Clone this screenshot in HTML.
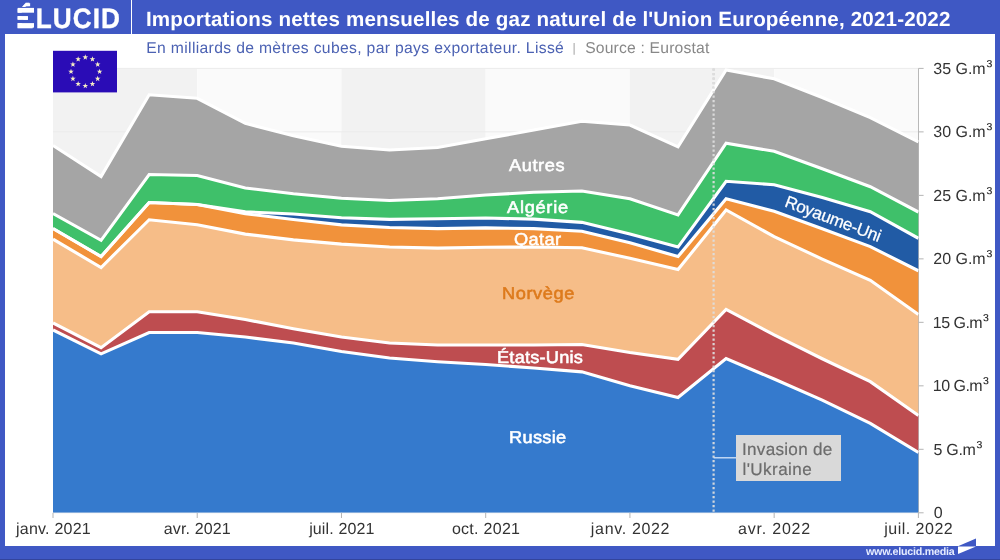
<!DOCTYPE html>
<html lang="fr"><head><meta charset="utf-8"><title>Importations nettes mensuelles de gaz naturel de l'Union Européenne, 2021-2022</title>
<style>
html,body{margin:0;padding:0;}
body{width:1000px;height:560px;position:relative;overflow:hidden;background:#3f58c4;font-family:"Liberation Sans",sans-serif;text-rendering:geometricPrecision;}
#paper{position:absolute;left:5px;top:34px;width:990px;height:512px;background:#fff;}
#bottomline{position:absolute;left:0;top:559px;width:1000px;height:1px;background:#33449c;}
.t{position:absolute;white-space:nowrap;line-height:1;}
.sup{font-size:17.4px;line-height:0;position:relative;top:-2.0px;letter-spacing:0;margin-left:0.9px;}
#t0::first-letter{margin-right:1.5px;}
#sep{position:absolute;left:131px;top:0;width:1.4px;height:34px;background:#fff;}
#ann{position:absolute;left:736px;top:435.1px;width:105.3px;height:45.6px;background:#d9d9d9;}
.eb{position:absolute;background:#3f58c4;}
</style></head><body>
<div id="paper"></div>

<svg width="1000" height="560" viewBox="0 0 1000 560" style="position:absolute;left:0;top:0">
<defs><clipPath id="cp"><rect x="53.0" y="66.4" width="865.6999999999999" height="446.4"/></clipPath><clipPath id="cpa"><polygon points="53.00,145.50 101.08,176.50 149.16,94.80 197.23,98.30 245.31,123.30 293.39,135.80 341.47,146.30 389.54,150.05 437.62,147.55 485.70,138.80 533.78,130.05 581.86,121.30 629.93,125.05 678.01,146.80 726.09,70.05 774.17,78.80 822.24,97.55 870.32,117.55 918.40,141.90 918.40,512.80 870.32,512.80 822.24,512.80 774.17,512.80 726.09,512.80 678.01,512.80 629.93,512.80 581.86,512.80 533.78,512.80 485.70,512.80 437.62,512.80 389.54,512.80 341.47,512.80 293.39,512.80 245.31,512.80 197.23,512.80 149.16,512.80 101.08,512.80 53.00,512.80"/></clipPath></defs>
<rect x="53.00" y="68.4" width="144.23" height="444.4" fill="#f2f2f2"/>
<rect x="53.00" y="131.89" width="144.23" height="63.49" fill="#f2f2f2"/>
<rect x="197.23" y="68.4" width="144.23" height="444.4" fill="#fafafa"/>
<rect x="197.23" y="131.89" width="144.23" height="63.49" fill="#fafafa"/>
<rect x="341.47" y="68.4" width="144.23" height="444.4" fill="#f2f2f2"/>
<rect x="341.47" y="131.89" width="144.23" height="63.49" fill="#f2f2f2"/>
<rect x="485.70" y="68.4" width="144.23" height="444.4" fill="#fafafa"/>
<rect x="485.70" y="131.89" width="144.23" height="63.49" fill="#fafafa"/>
<rect x="629.93" y="68.4" width="144.23" height="444.4" fill="#f2f2f2"/>
<rect x="629.93" y="131.89" width="144.23" height="63.49" fill="#f2f2f2"/>
<rect x="774.17" y="68.4" width="144.23" height="444.4" fill="#fafafa"/>
<rect x="774.17" y="131.89" width="144.23" height="63.49" fill="#fafafa"/>
<line x1="53.0" x2="918.4" y1="512.80" y2="512.80" stroke="#ebebeb" stroke-width="1"/>
<line x1="53.0" x2="918.4" y1="449.31" y2="449.31" stroke="#ebebeb" stroke-width="1"/>
<line x1="53.0" x2="918.4" y1="385.83" y2="385.83" stroke="#ebebeb" stroke-width="1"/>
<line x1="53.0" x2="918.4" y1="322.34" y2="322.34" stroke="#ebebeb" stroke-width="1"/>
<line x1="53.0" x2="918.4" y1="258.86" y2="258.86" stroke="#ebebeb" stroke-width="1"/>
<line x1="53.0" x2="918.4" y1="195.37" y2="195.37" stroke="#ebebeb" stroke-width="1"/>
<line x1="53.0" x2="918.4" y1="131.89" y2="131.89" stroke="#ebebeb" stroke-width="1"/>
<line x1="53.0" x2="918.4" y1="68.40" y2="68.40" stroke="#ebebeb" stroke-width="1"/>
<line x1="713.6" x2="713.6" y1="68.4" y2="512.8" stroke="#d2d2d2" stroke-width="2.2" stroke-dasharray="2.4 2.1"/>
<line x1="918.5" x2="918.5" y1="68.4" y2="512.8" stroke="#b8b8b8" stroke-width="1"/>
<g clip-path="url(#cp)">
<polygon points="53.00,145.50 101.08,176.50 149.16,94.80 197.23,98.30 245.31,123.30 293.39,135.80 341.47,146.30 389.54,150.05 437.62,147.55 485.70,138.80 533.78,130.05 581.86,121.30 629.93,125.05 678.01,146.80 726.09,70.05 774.17,78.80 822.24,97.55 870.32,117.55 918.40,141.90 918.40,212.05 870.32,186.70 822.24,168.75 774.17,151.30 726.09,143.25 678.01,214.90 629.93,198.80 581.86,191.00 533.78,192.25 485.70,195.05 437.62,198.75 389.54,200.50 341.47,198.30 293.39,193.75 245.31,187.95 197.23,175.50 149.16,174.50 101.08,240.30 53.00,213.50" fill="#a5a5a5"/>
<polygon points="53.00,213.50 101.08,240.30 149.16,174.50 197.23,175.50 245.31,187.95 293.39,193.75 341.47,198.30 389.54,200.50 437.62,198.75 485.70,195.05 533.78,192.25 581.86,191.00 629.93,198.80 678.01,214.90 726.09,143.25 774.17,151.30 822.24,168.75 870.32,186.70 918.40,212.05 918.40,238.30 870.32,211.70 822.24,197.50 774.17,184.80 726.09,181.25 678.01,247.05 629.93,234.10 581.86,222.35 533.78,219.10 485.70,218.05 437.62,218.80 389.54,219.35 341.47,217.70 293.39,214.00 245.31,211.80 197.23,204.50 149.16,202.50 101.08,256.50 53.00,228.50" fill="#3fc06a"/>
<polygon points="53.00,228.50 101.08,256.50 149.16,202.50 197.23,204.50 245.31,211.80 293.39,214.00 341.47,217.70 389.54,219.35 437.62,218.80 485.70,218.05 533.78,219.10 581.86,222.35 629.93,234.10 678.01,247.05 726.09,181.25 774.17,184.80 822.24,197.50 870.32,211.70 918.40,238.30 918.40,270.80 870.32,246.60 822.24,228.75 774.17,211.25 726.09,198.70 678.01,256.60 629.93,242.85 581.86,231.30 533.78,228.60 485.70,227.85 437.62,228.60 389.54,227.55 341.47,224.85 293.39,219.55 245.31,213.70 197.23,204.50 149.16,202.50 101.08,256.50 53.00,228.50" fill="#215ba5"/>
<polygon points="53.00,228.50 101.08,256.50 149.16,202.50 197.23,204.50 245.31,213.70 293.39,219.55 341.47,224.85 389.54,227.55 437.62,228.60 485.70,227.85 533.78,228.60 581.86,231.30 629.93,242.85 678.01,256.60 726.09,198.70 774.17,211.25 822.24,228.75 870.32,246.60 918.40,270.80 918.40,314.40 870.32,280.35 822.24,259.10 774.17,236.60 726.09,210.00 678.01,269.55 629.93,258.30 581.86,247.80 533.78,247.00 485.70,247.30 437.62,248.10 389.54,247.05 341.47,244.15 293.39,239.85 245.31,234.10 197.23,224.70 149.16,219.75 101.08,267.50 53.00,239.20" fill="#f1923b"/>
<polygon points="53.00,239.20 101.08,267.50 149.16,219.75 197.23,224.70 245.31,234.10 293.39,239.85 341.47,244.15 389.54,247.05 437.62,248.10 485.70,247.30 533.78,247.00 581.86,247.80 629.93,258.30 678.01,269.55 726.09,210.00 774.17,236.60 822.24,259.10 870.32,280.35 918.40,314.40 918.40,415.40 870.32,381.65 822.24,358.75 774.17,334.90 726.09,309.40 678.01,359.25 629.93,352.50 581.86,344.50 533.78,345.00 485.70,345.00 437.62,345.00 389.54,343.00 341.47,337.00 293.39,328.75 245.31,319.50 197.23,311.75 149.16,311.75 101.08,347.70 53.00,322.95" fill="#f6bd88"/>
<polygon points="53.00,322.95 101.08,347.70 149.16,311.75 197.23,311.75 245.31,319.50 293.39,328.75 341.47,337.00 389.54,343.00 437.62,345.00 485.70,345.00 533.78,345.00 581.86,344.50 629.93,352.50 678.01,359.25 726.09,309.40 774.17,334.90 822.24,358.75 870.32,381.65 918.40,415.40 918.40,452.50 870.32,423.40 822.24,400.10 774.17,379.05 726.09,358.50 678.01,397.50 629.93,385.80 581.86,371.85 533.78,368.00 485.70,364.55 437.62,361.75 389.54,358.00 341.47,351.50 293.39,343.00 245.31,337.00 197.23,332.50 149.16,332.50 101.08,353.80 53.00,329.95" fill="#be4d50"/>
<polygon points="53.00,329.95 101.08,353.80 149.16,332.50 197.23,332.50 245.31,337.00 293.39,343.00 341.47,351.50 389.54,358.00 437.62,361.75 485.70,364.55 533.78,368.00 581.86,371.85 629.93,385.80 678.01,397.50 726.09,358.50 774.17,379.05 822.24,400.10 870.32,423.40 918.40,452.50 918.40,512.80 870.32,512.80 822.24,512.80 774.17,512.80 726.09,512.80 678.01,512.80 629.93,512.80 581.86,512.80 533.78,512.80 485.70,512.80 437.62,512.80 389.54,512.80 341.47,512.80 293.39,512.80 245.31,512.80 197.23,512.80 149.16,512.80 101.08,512.80 53.00,512.80" fill="#357acd"/>
<polyline points="53.00,145.50 101.08,176.50 149.16,94.80 197.23,98.30 245.31,123.30 293.39,135.80 341.47,146.30 389.54,150.05 437.62,147.55 485.70,138.80 533.78,130.05 581.86,121.30 629.93,125.05 678.01,146.80 726.09,70.05 774.17,78.80 822.24,97.55 870.32,117.55 918.40,141.90" fill="none" stroke="#fff" stroke-width="3.1" stroke-linejoin="miter"/>
<polyline points="53.00,213.50 101.08,240.30 149.16,174.50 197.23,175.50 245.31,187.95 293.39,193.75 341.47,198.30 389.54,200.50 437.62,198.75 485.70,195.05 533.78,192.25 581.86,191.00 629.93,198.80 678.01,214.90 726.09,143.25 774.17,151.30 822.24,168.75 870.32,186.70 918.40,212.05" fill="none" stroke="#fff" stroke-width="3.1" stroke-linejoin="miter"/>
<polyline points="53.00,228.50 101.08,256.50 149.16,202.50 197.23,204.50 245.31,211.80 293.39,214.00 341.47,217.70 389.54,219.35 437.62,218.80 485.70,218.05 533.78,219.10 581.86,222.35 629.93,234.10 678.01,247.05 726.09,181.25 774.17,184.80 822.24,197.50 870.32,211.70 918.40,238.30" fill="none" stroke="#fff" stroke-width="3.1" stroke-linejoin="miter"/>
<polyline points="53.00,228.50 101.08,256.50 149.16,202.50 197.23,204.50 245.31,213.70 293.39,219.55 341.47,224.85 389.54,227.55 437.62,228.60 485.70,227.85 533.78,228.60 581.86,231.30 629.93,242.85 678.01,256.60 726.09,198.70 774.17,211.25 822.24,228.75 870.32,246.60 918.40,270.80" fill="none" stroke="#fff" stroke-width="3.1" stroke-linejoin="miter"/>
<polyline points="53.00,239.20 101.08,267.50 149.16,219.75 197.23,224.70 245.31,234.10 293.39,239.85 341.47,244.15 389.54,247.05 437.62,248.10 485.70,247.30 533.78,247.00 581.86,247.80 629.93,258.30 678.01,269.55 726.09,210.00 774.17,236.60 822.24,259.10 870.32,280.35 918.40,314.40" fill="none" stroke="#fff" stroke-width="3.1" stroke-linejoin="miter"/>
<polyline points="53.00,322.95 101.08,347.70 149.16,311.75 197.23,311.75 245.31,319.50 293.39,328.75 341.47,337.00 389.54,343.00 437.62,345.00 485.70,345.00 533.78,345.00 581.86,344.50 629.93,352.50 678.01,359.25 726.09,309.40 774.17,334.90 822.24,358.75 870.32,381.65 918.40,415.40" fill="none" stroke="#fff" stroke-width="3.1" stroke-linejoin="miter"/>
<polyline points="53.00,329.95 101.08,353.80 149.16,332.50 197.23,332.50 245.31,337.00 293.39,343.00 341.47,351.50 389.54,358.00 437.62,361.75 485.70,364.55 533.78,368.00 581.86,371.85 629.93,385.80 678.01,397.50 726.09,358.50 774.17,379.05 822.24,400.10 870.32,423.40 918.40,452.50" fill="none" stroke="#fff" stroke-width="3.1" stroke-linejoin="miter"/>
</g>
<line x1="713.6" x2="713.6" y1="68.4" y2="512.8" stroke="#dedede" stroke-opacity="0.93" stroke-width="2.2" stroke-dasharray="2.4 2.1"/>
<line x1="918.5" x2="923.6" y1="512.80" y2="512.80" stroke="#b4b4b4" stroke-width="1"/>
<line x1="918.5" x2="923.6" y1="449.31" y2="449.31" stroke="#b4b4b4" stroke-width="1"/>
<line x1="918.5" x2="923.6" y1="385.83" y2="385.83" stroke="#b4b4b4" stroke-width="1"/>
<line x1="918.5" x2="923.6" y1="322.34" y2="322.34" stroke="#b4b4b4" stroke-width="1"/>
<line x1="918.5" x2="923.6" y1="258.86" y2="258.86" stroke="#b4b4b4" stroke-width="1"/>
<line x1="918.5" x2="923.6" y1="195.37" y2="195.37" stroke="#b4b4b4" stroke-width="1"/>
<line x1="918.5" x2="923.6" y1="131.89" y2="131.89" stroke="#b4b4b4" stroke-width="1"/>
<line x1="918.5" x2="923.6" y1="68.40" y2="68.40" stroke="#b4b4b4" stroke-width="1"/>
<line x1="53.00" x2="53.00" y1="512.8" y2="518.0" stroke="#b4b4b4" stroke-width="1"/>
<line x1="197.23" x2="197.23" y1="512.8" y2="518.0" stroke="#b4b4b4" stroke-width="1"/>
<line x1="341.47" x2="341.47" y1="512.8" y2="518.0" stroke="#b4b4b4" stroke-width="1"/>
<line x1="485.70" x2="485.70" y1="512.8" y2="518.0" stroke="#b4b4b4" stroke-width="1"/>
<line x1="629.93" x2="629.93" y1="512.8" y2="518.0" stroke="#b4b4b4" stroke-width="1"/>
<line x1="774.17" x2="774.17" y1="512.8" y2="518.0" stroke="#b4b4b4" stroke-width="1"/>
<line x1="918.40" x2="918.40" y1="512.8" y2="518.0" stroke="#b4b4b4" stroke-width="1"/>
<line x1="713.6" x2="736" y1="457.8" y2="457.8" stroke="#d6e6fa" stroke-width="1.3"/>
<rect x="53" y="50.8" width="64" height="41.6" fill="#2a0cb6"/>
<polygon points="85.30,54.35 85.99,56.35 88.11,56.39 86.42,57.66 87.03,59.69 85.30,58.48 83.57,59.69 84.18,57.66 82.49,56.39 84.61,56.35" fill="#f6eec4"/>
<polygon points="92.45,56.27 93.14,58.26 95.26,58.30 93.57,59.58 94.18,61.60 92.45,60.40 90.72,61.60 91.33,59.58 89.64,58.30 91.76,58.26" fill="#f6eec4"/>
<polygon points="97.68,61.50 98.38,63.50 100.49,63.54 98.81,64.81 99.42,66.84 97.68,65.63 95.95,66.84 96.56,64.81 94.88,63.54 96.99,63.50" fill="#f6eec4"/>
<polygon points="99.60,68.65 100.29,70.65 102.41,70.69 100.72,71.96 101.33,73.99 99.60,72.78 97.87,73.99 98.48,71.96 96.79,70.69 98.91,70.65" fill="#f6eec4"/>
<polygon points="97.68,75.80 98.38,77.80 100.49,77.84 98.81,79.11 99.42,81.14 97.68,79.93 95.95,81.14 96.56,79.11 94.88,77.84 96.99,77.80" fill="#f6eec4"/>
<polygon points="92.45,81.03 93.14,83.03 95.26,83.07 93.57,84.35 94.18,86.37 92.45,85.16 90.72,86.37 91.33,84.35 89.64,83.07 91.76,83.03" fill="#f6eec4"/>
<polygon points="85.30,82.95 85.99,84.95 88.11,84.99 86.42,86.26 87.03,88.29 85.30,87.08 83.57,88.29 84.18,86.26 82.49,84.99 84.61,84.95" fill="#f6eec4"/>
<polygon points="78.15,81.03 78.84,83.03 80.96,83.07 79.27,84.35 79.88,86.37 78.15,85.16 76.42,86.37 77.03,84.35 75.34,83.07 77.46,83.03" fill="#f6eec4"/>
<polygon points="72.92,75.80 73.61,77.80 75.72,77.84 74.04,79.11 74.65,81.14 72.92,79.93 71.18,81.14 71.79,79.11 70.11,77.84 72.22,77.80" fill="#f6eec4"/>
<polygon points="71.00,68.65 71.69,70.65 73.81,70.69 72.12,71.96 72.73,73.99 71.00,72.78 69.27,73.99 69.88,71.96 68.19,70.69 70.31,70.65" fill="#f6eec4"/>
<polygon points="72.92,61.50 73.61,63.50 75.72,63.54 74.04,64.81 74.65,66.84 72.92,65.63 71.18,66.84 71.79,64.81 70.11,63.54 72.22,63.50" fill="#f6eec4"/>
<polygon points="78.15,56.27 78.84,58.26 80.96,58.30 79.27,59.58 79.88,61.60 78.15,60.40 76.42,61.60 77.03,59.58 75.34,58.30 77.46,58.26" fill="#f6eec4"/>
<polygon points="958.5,546 976,538.4 976,546" fill="#3f58c4"/>
<polygon points="958,546.6 976,546.6 958,554" fill="#fff"/>
</svg>
<div id="sep"></div><div id="ann"></div>
<div class="t" id="t0" style="left:16.36px;top:3.73px;font-size:28.2px;font-weight:bold;color:#fff;letter-spacing:1.057px;-webkit-text-stroke:0.35px #fff;transform:scaleX(0.93);transform-origin:0 0;">ÉLUCID</div>
<div class="t" id="t1" style="left:145.94px;top:10.46px;font-size:20.6px;font-weight:bold;color:#fff;letter-spacing:0.159px;">Importations nettes mensuelles de gaz naturel de l'Union Européenne, 2021-2022</div>
<div class="t" id="t2" style="left:146.29px;top:41.21px;font-size:15.7px;font-weight:normal;color:#4c62b3;letter-spacing:0.340px;">En milliards de mètres cubes, par pays exportateur. Lissé</div>
<div class="t" id="t3" style="left:572.40px;top:42.02px;font-size:12.5px;font-weight:normal;color:#a8a8a8;letter-spacing:0.000px;">|</div>
<div class="t" id="t4" style="left:585.17px;top:41.21px;font-size:15.7px;font-weight:normal;color:#888;letter-spacing:0.182px;">Source : Eurostat</div>
<div class="t" id="t5" style="left:15.96px;top:521.56px;font-size:16px;font-weight:normal;color:#333;letter-spacing:0.237px;">janv. 2021</div>
<div class="t" id="t6" style="left:163.79px;top:521.56px;font-size:16px;font-weight:normal;color:#333;letter-spacing:0.141px;">avr. 2021</div>
<div class="t" id="t7" style="left:309.15px;top:521.56px;font-size:16px;font-weight:normal;color:#333;letter-spacing:0.134px;">juil. 2021</div>
<div class="t" id="t8" style="left:451.90px;top:521.56px;font-size:16px;font-weight:normal;color:#333;letter-spacing:0.283px;">oct. 2021</div>
<div class="t" id="t9" style="left:590.86px;top:521.56px;font-size:16px;font-weight:normal;color:#333;letter-spacing:0.667px;">janv. 2022</div>
<div class="t" id="t10" style="left:738.04px;top:521.56px;font-size:16px;font-weight:normal;color:#333;letter-spacing:0.789px;">avr. 2022</div>
<div class="t" id="t11" style="left:884.25px;top:521.56px;font-size:16px;font-weight:normal;color:#333;letter-spacing:0.485px;">juil. 2022</div>
<div class="t" id="t12" style="left:933.84px;top:505.86px;font-size:16px;font-weight:normal;color:#333;letter-spacing:0.000px;">0</div>
<div class="t" id="t13" style="left:933.46px;top:443.37px;font-size:16px;font-weight:normal;color:#333;letter-spacing:-0.284px;">5 G.m<span class="sup">³</span></div>
<div class="t" id="t14" style="left:932.85px;top:378.88px;font-size:16px;font-weight:normal;color:#333;letter-spacing:-0.527px;">10 G.m<span class="sup">³</span></div>
<div class="t" id="t15" style="left:932.85px;top:316.40px;font-size:16px;font-weight:normal;color:#333;letter-spacing:-0.527px;">15 G.m<span class="sup">³</span></div>
<div class="t" id="t16" style="left:933.24px;top:251.91px;font-size:16px;font-weight:normal;color:#333;letter-spacing:-0.007px;">20 G.m<span class="sup">³</span></div>
<div class="t" id="t17" style="left:933.24px;top:189.43px;font-size:16px;font-weight:normal;color:#333;letter-spacing:-0.007px;">25 G.m<span class="sup">³</span></div>
<div class="t" id="t18" style="left:933.26px;top:124.94px;font-size:16px;font-weight:normal;color:#333;letter-spacing:-0.007px;">30 G.m<span class="sup">³</span></div>
<div class="t" id="t19" style="left:933.26px;top:62.46px;font-size:16px;font-weight:normal;color:#333;letter-spacing:-0.007px;">35 G.m<span class="sup">³</span></div>
<div class="t" id="t20" style="left:509.37px;top:157.34px;font-size:17.2px;font-weight:normal;color:#fff;letter-spacing:0.543px;transform:scaleX(1.06);transform-origin:0 0;-webkit-text-stroke:0.55px #fff;">Autres</div>
<div class="t" id="t21" style="left:506.97px;top:198.84px;font-size:17.2px;font-weight:normal;color:#fff;letter-spacing:0.686px;transform:scaleX(1.06);transform-origin:0 0;-webkit-text-stroke:0.55px #fff;">Algérie</div>
<div class="t" id="t22" style="left:514.32px;top:230.64px;font-size:17.2px;font-weight:normal;color:#fff;letter-spacing:0.355px;transform:scaleX(1.06);transform-origin:0 0;-webkit-text-stroke:0.55px #fff;">Qatar</div>
<div class="t" id="t23" style="left:501.57px;top:284.94px;font-size:17.2px;font-weight:normal;color:#dd7a1c;letter-spacing:0.534px;transform:scaleX(1.06);transform-origin:0 0;-webkit-text-stroke:0.55px #dd7a1c;">Norvège</div>
<div class="t" id="t24" style="left:496.95px;top:348.74px;font-size:17.2px;font-weight:normal;color:#fff;letter-spacing:0.195px;transform:scaleX(1.06);transform-origin:0 0;-webkit-text-stroke:0.55px #fff;">États-Unis</div>
<div class="t" id="t25" style="left:509.15px;top:429.24px;font-size:17.2px;font-weight:normal;color:#fff;letter-spacing:0.292px;transform:scaleX(1.06);transform-origin:0 0;-webkit-text-stroke:0.55px #fff;">Russie</div>
<div class="t" id="t26" style="left:742.00px;top:440.62px;font-size:17.1px;font-weight:normal;color:#6c6c6c;letter-spacing:0.282px;-webkit-text-stroke:0.2px #6c6c6c;">Invasion de</div>
<div class="t" id="t27" style="left:742.43px;top:461.42px;font-size:17.1px;font-weight:normal;color:#6c6c6c;letter-spacing:0.415px;-webkit-text-stroke:0.2px #6c6c6c;">l'Ukraine</div>
<div class="t" id="t28" style="left:866.03px;top:547.44px;font-size:10.7px;font-weight:bold;color:#e6ecff;letter-spacing:-0.245px;">www.elucid.media</div>
<div class="t" id="ruk" style="left:833.0px;top:219.2px;font-size:17px;color:#fff;letter-spacing:-0.25px;-webkit-text-stroke:0.25px #fff;transform:translate(-50%,-50%) rotate(20.8deg)">Royaume-Uni</div>
<svg width="60" height="34" viewBox="0 0 60 34" style="position:absolute;left:0;top:0">
<rect x="16.5" y="12.7" width="7" height="3.4" fill="#3f58c4"/><rect x="16.5" y="19.7" width="7" height="3.4" fill="#3f58c4"/>
<rect x="27.9" y="15.5" width="7.6" height="5" fill="#3f58c4"/>
<rect x="17.9" y="7.9" width="16.1" height="4.8" fill="#fff"/><rect x="17.9" y="16.1" width="10" height="3.6" fill="#fff"/><rect x="17.9" y="23.1" width="16.1" height="4.5" fill="#fff"/>
<polygon points="22.3,6.5 30.1,2.9 30.1,6.3" fill="#fff"/>
</svg>
<div id="bottomline"></div>
</body></html>
